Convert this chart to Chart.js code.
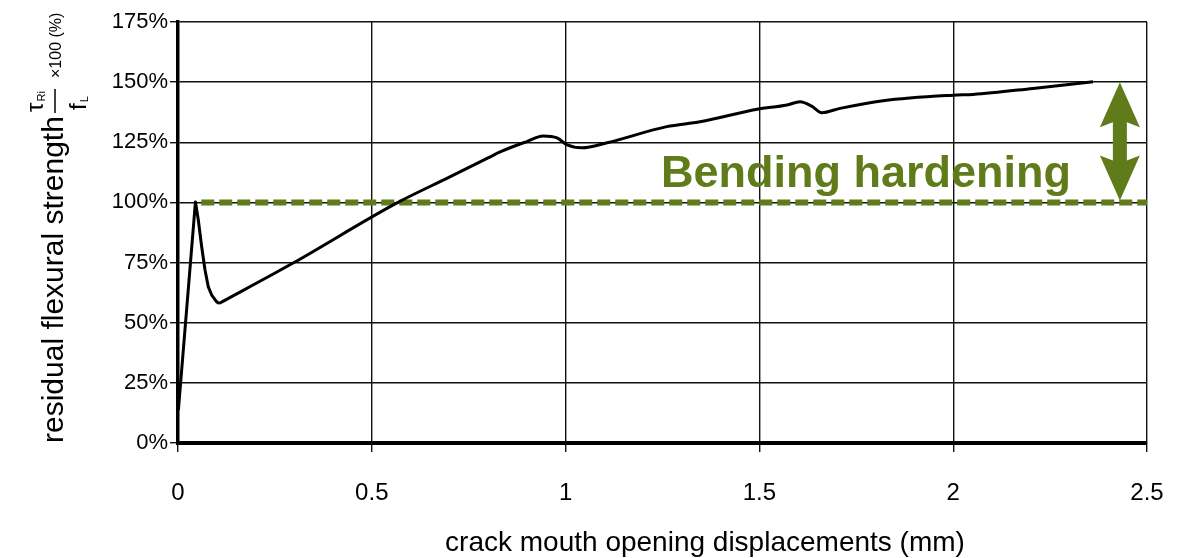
<!DOCTYPE html>
<html>
<head>
<meta charset="utf-8">
<script src="https://cdn.jsdelivr.net/npm/chart.js@4"></script>
<style>
  body { margin: 0; background: #fff; }
  #wrap { width: 1192px; height: 558px; position: relative; }
</style>
</head>
<body>
<div id="wrap"><canvas id="cmod-chart"></canvas></div>
<script>
  // crack mouth opening displacement (mm) vs residual strength (% of fL)
  // first part: elastic rise, peak and softening (drawn with straight segments)
  const peakCmod = [0.001, 0.045, 0.0524, 0.0611, 0.0697, 0.0782, 0.0869, 0.0998, 0.1058];
  const peakStrength = [13.7, 100.2, 92.7, 81.6, 71.9, 64.9, 61.5, 58.7, 58.0];

  // second part: hardening branch (smoothed)
  const hardCmod = [0.1058, 0.297, 0.565, 0.7, 0.8, 0.831, 0.9, 0.942, 0.978, 1.004, 1.042, 1.107, 1.261, 1.347, 1.494, 1.571, 1.605, 1.635, 1.661, 1.708, 1.819, 2.0, 2.051, 2.206, 2.361];
  const hardStrength = [58.0, 74.8, 99.8, 110.5, 118.5, 121, 125.3, 127.6, 126.8, 123.9, 122.7, 124.8, 131.5, 133.5, 138.7, 140.5, 141.9, 140, 137.3, 139.1, 142.3, 144.6, 144.9, 147.4, 150.2];

  // 100% reference (limit of proportionality)
  const refX = [0.06, 2.5];
  const refY = [100, 100];

  const xTicks = [0, 0.5, 1, 1.5, 2, 2.5];
  const yTicks = [0, 25, 50, 75, 100, 125, 150, 175];

  const GREEN = '#5f7b1a';
  const FONT = "'Liberation Sans', Arial, Helvetica, sans-serif";

  const toPoints = (xs, ys) => xs.map((v, i) => ({ x: v, y: ys[i] }));

  const annotations = {
    id: 'annotations',
    afterDatasetsDraw(chart) {
      const ctx = chart.ctx;
      const x = chart.scales.x, y = chart.scales.y;

      // bending hardening label
      ctx.save();
      ctx.fillStyle = GREEN;
      ctx.font = 'bold 45px ' + FONT;
      ctx.textAlign = 'center';
      ctx.textBaseline = 'alphabetic';
      ctx.fillText('Bending hardening', x.getPixelForValue(1.775), y.getPixelForValue(106.4));

      // double arrow between 100% and 150%
      const xc = x.getPixelForValue(2.43);
      const yT = y.getPixelForValue(150);
      const yB = y.getPixelForValue(100) - 2;
      const hl = 45, hw = 20, sw = 7, notch = 5;
      ctx.beginPath();
      ctx.moveTo(xc, yT);
      ctx.lineTo(xc + hw, yT + hl);
      ctx.lineTo(xc + sw, yT + hl - notch);
      ctx.lineTo(xc + sw, yB - hl + notch);
      ctx.lineTo(xc + hw, yB - hl);
      ctx.lineTo(xc, yB);
      ctx.lineTo(xc - hw, yB - hl);
      ctx.lineTo(xc - sw, yB - hl + notch);
      ctx.lineTo(xc - sw, yT + hl - notch);
      ctx.lineTo(xc - hw, yT + hl);
      ctx.closePath();
      ctx.fill();
      ctx.restore();
    },
    afterDraw(chart) {
      const ctx = chart.ctx;
      ctx.save();

      // x axis title, sits right of the plot centre in the original
      ctx.fillStyle = '#000';
      ctx.font = '28px ' + FONT;
      ctx.textAlign = 'center';
      ctx.textBaseline = 'alphabetic';
      ctx.fillText('crack mouth opening displacements (mm)', 705, 551);

      // tau_Ri / f_L x100 (%) next to the y title
      ctx.translate(55, 113);
      ctx.rotate(-Math.PI / 2);
      ctx.strokeStyle = '#000';
      ctx.lineWidth = 1.5;
      ctx.beginPath();
      ctx.moveTo(0, 0);
      ctx.lineTo(24, 0);
      ctx.stroke();
      ctx.textAlign = 'left';
      ctx.font = '24px ' + FONT;
      ctx.fillText('τ', 1, -12);
      const tw = ctx.measureText('τ').width;
      ctx.fillText('f', 3, 31);
      const fw = ctx.measureText('f').width;
      ctx.font = '11px ' + FONT;
      ctx.fillText('Ri', 1 + tw + 1, -10);
      ctx.fillText('L', 3 + fw + 1, 33);
      ctx.font = '16px ' + FONT;
      ctx.fillText('×100 (%)', 35, 6);
      ctx.restore();
    }
  };

  const ctx = document.getElementById('cmod-chart').getContext('2d');

  new Chart(ctx, {
    type: 'line',
    data: {
      datasets: [
        {
          label: 'residual strength (peak)',
          data: toPoints(peakCmod, peakStrength),
          borderColor: '#000',
          borderWidth: 3,
          pointRadius: 0,
          tension: 0,
          borderJoinStyle: 'round',
          fill: false,
        },
        {
          label: 'residual strength (hardening)',
          data: toPoints(hardCmod, hardStrength),
          borderColor: '#000',
          borderWidth: 3,
          pointRadius: 0,
          cubicInterpolationMode: 'monotone',
          borderJoinStyle: 'round',
          fill: false,
        },
        {
          label: '100%',
          data: toPoints(refX, refY),
          borderColor: GREEN,
          borderWidth: 6,
          borderDash: [13, 5],
          pointRadius: 0,
          fill: false,
        },
      ],
    },
    options: {
      responsive: true,
      maintainAspectRatio: false,
      animation: false,
      layout: { padding: { left: 0, right: 45, top: 22, bottom: 0 } },
      plugins: {
        legend: { display: false },
        tooltip: { enabled: false },
      },
      scales: {
        x: {
          type: 'linear',
          min: 0,
          max: 2.5,
          afterBuildTicks(scale) {
            scale.ticks = xTicks.map(v => ({ value: v }));
          },
          afterFit(scale) {
            scale.height = 115;
          },
          grid: { color: '#111', lineWidth: 1.4, tickLength: 9, tickColor: '#111' },
          border: { color: '#000', width: 4 },
          ticks: {
            color: '#000',
            padding: 27,
            font: { family: FONT, size: 24 },
            callback: v => String(v),
          },
        },
        y: {
          min: 0,
          max: 175,
          afterBuildTicks(scale) {
            scale.ticks = yTicks.map(v => ({ value: v }));
          },
          afterFit(scale) {
            scale.width = 178;
          },
          grid: { color: '#111', lineWidth: 1.4, tickLength: 8, tickColor: '#111' },
          border: { color: '#000', width: 3.5 },
          ticks: {
            color: '#000',
            padding: 2,
            font: { family: FONT, size: 22 },
            callback: v => v + '%',
          },
          title: {
            display: true,
            text: 'residual flexural strength',
            align: 'start',
            color: '#000',
            font: { family: FONT, size: 30 },
            padding: { top: 37, bottom: 0 },
          },
        },
      },
    },
    plugins: [annotations],
  });
</script>
</body>
</html>
